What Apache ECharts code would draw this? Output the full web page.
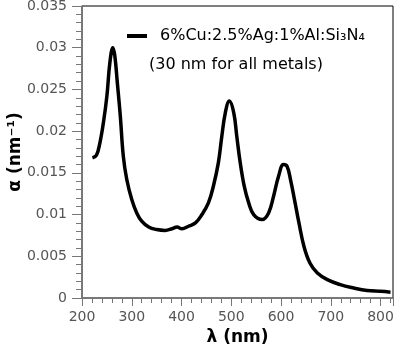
<!DOCTYPE html>
<html style="height: 100%;">
   <head>
       <meta charset="utf-8">
   </head>
   <body style="height: 100%; margin: 0; background-color: #fff;">
        <div id="container" style="width: 398px; height: 346px;"></div>
        <script type="text/javascript" src="https://cdn.jsdelivr.net/npm/echarts@6/dist/echarts.min.js"></script>
        <script type="text/javascript">
// wavelength (nm) and absorption coefficient alpha (nm^-1)
var wavelength = [221, 229, 236, 243, 250, 256, 262, 266, 271, 277, 283, 290, 300, 310, 320, 334, 350, 367, 381, 391,
    401, 414, 428, 441, 454, 464, 474, 481, 488, 496, 505, 511, 518, 526, 535, 545, 562, 575, 585, 595,
    605, 612, 619, 627, 636, 646, 658, 673, 693, 719, 746, 773, 800, 820];
var alpha = [0.0168, 0.0171, 0.0186, 0.0210, 0.0242, 0.0282, 0.0300, 0.0290, 0.0258, 0.0218, 0.0170, 0.0142, 0.0118, 0.0102, 0.0092, 0.0085, 0.0082, 0.0081, 0.0083, 0.0085,
    0.0083, 0.0086, 0.0090, 0.0100, 0.0114, 0.0134, 0.0162, 0.0194, 0.0222, 0.0236, 0.0222, 0.0194, 0.0162, 0.0134, 0.0114, 0.0100, 0.0094, 0.0102, 0.0122, 0.0146,
    0.0160, 0.0158, 0.0142, 0.0118, 0.0090, 0.0062, 0.0042, 0.0030, 0.0022, 0.0016, 0.0012, 0.0009, 0.0008, 0.0007];
var seriesName = '6%Cu:2.5%Ag:1%Al:Si₃N₄';
var note = '(30 nm for all metals)';

var font = 'DejaVu Sans';
var dom = document.getElementById("container");
var myChart = echarts.init(dom);

var option = {
    animation: false,
    title: {
        text: note,
        left: 149,
        top: 57,
        padding: 0,
        textStyle: { fontFamily: font, fontSize: 16, fontWeight: 'normal', color: '#000' }
    },
    legend: {
        left: 127,
        top: 28,
        padding: 0,
        icon: 'rect',
        itemWidth: 20,
        itemHeight: 4,
        textStyle: { fontFamily: font, fontSize: 16, color: '#000', padding: [0, 0, 0, 8] },
        data: [seriesName]
    },
    grid: {
        left: 82, right: 5, top: 6, bottom: 48,
        outerBoundsMode: 'none',
        containLabel: false,
        show: true,
        borderColor: '#000',
        borderWidth: 1
    },
    xAxis: {
        type: 'value',
        min: 200,
        max: 825,
        interval: 100,
        name: 'λ (nm)',
        nameLocation: 'middle',
        nameGap: 31,
        nameMoveOverlap: false,
        nameTextStyle: { fontFamily: font, fontSize: 17, fontWeight: 'bold', color: '#000' },
        axisLine: { lineStyle: { color: '#777', width: 1.5 } },
        axisTick: { length: 8, lineStyle: { color: '#777' } },
        minorTick: { show: true, splitNumber: 5, length: 5, lineStyle: { color: '#777' } },
        splitLine: { show: false },
        axisLabel: {
            fontFamily: font, fontSize: 14, color: '#555', margin: 12,
            formatter: function (v) { return v % 100 === 0 ? String(v) : ''; }
        }
    },
    yAxis: {
        type: 'value',
        min: 0,
        max: 0.035,
        interval: 0.005,
        name: 'α (nm⁻¹)',
        nameLocation: 'middle',
        nameRotate: 90,
        nameGap: 58,
        nameMoveOverlap: false,
        nameTextStyle: { fontFamily: font, fontSize: 17, fontWeight: 'bold', color: '#000' },
        axisLine: { show: true, lineStyle: { color: '#777', width: 1.5 } },
        axisTick: { show: true, length: 10, lineStyle: { color: '#777' } },
        minorTick: { show: true, splitNumber: 5, length: 6, lineStyle: { color: '#777' } },
        splitLine: { show: false },
        axisLabel: { fontFamily: font, fontSize: 14, color: '#555', margin: 15 }
    },
    series: [
        {
            name: seriesName,
            type: 'line',
            smooth: 0.4,
            showSymbol: false,
            itemStyle: { color: '#000' },
            lineStyle: { color: '#000', width: 3.5 },
            data: wavelength.map(function (w, i) { return [w, alpha[i]]; })
        }
    ]
};
myChart.setOption(option);
        </script>
   </body>
</html>
